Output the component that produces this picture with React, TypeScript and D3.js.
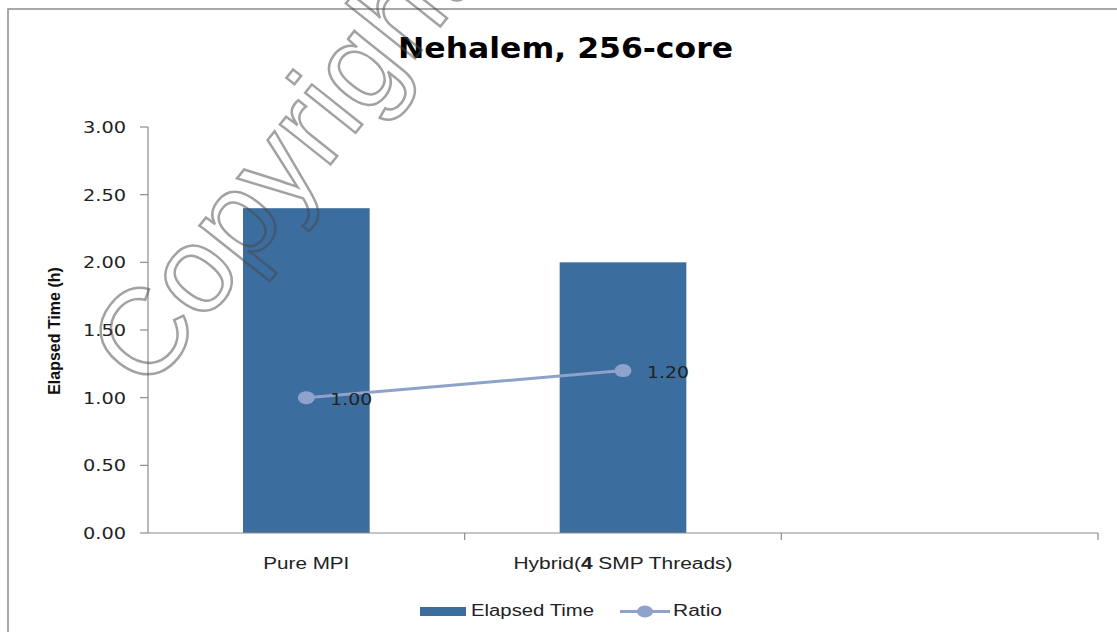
import React from "react";
import * as d3 from "d3";

const title = "Nehalem, 256-core";
const categories = ["Pure MPI", "Hybrid(4 SMP Threads)", ""];
const elapsedTime = [2.4, 2.0];
const ratio = [1.0, 1.2];
const yTicks = [0, 0.5, 1.0, 1.5, 2.0, 2.5, 3.0];
const yAxisLabel = "Elapsed Time (h)";
const legendLabels = ["Elapsed Time", "Ratio"];
const watermark = "Copyright";

const W = 1117;
const H = 632;
const M = { left: 148, right: 1098, top: 127, bottom: 533 };
const BAR = "#3C6D9F";
const LINE = "#8EA2CB";
const AXIS = "#8c8c8c";

export default function App() {
  const x = d3
    .scaleBand<number>()
    .domain(categories.map((_, i) => i))
    .range([M.left, M.right])
    .paddingInner(0)
    .paddingOuter(0);
  const y = d3.scaleLinear().domain([0, 3]).range([M.bottom, M.top]);
  const bw = x.bandwidth() * 0.4;
  const cx = (i: number) => (x(i) as number) + x.bandwidth() / 2;

  const line = d3
    .line<number>()
    .x((_, i) => cx(i))
    .y((d) => y(d));

  const sans = "'DejaVu Sans', Verdana, sans-serif";
  const narrow = "'Liberation Sans Narrow', 'Liberation Sans', Arial, sans-serif";

  const boundaries = categories.map((_, i) => (x(i) as number) + x.bandwidth());

  return (
    <svg
      width={W}
      height={H}
      style={{ position: "absolute", left: 0, top: 0, background: "#fff" }}
    >
      <rect x={0} y={0} width={W} height={H} fill="#fff" />
      <rect x={8} y={9} width={1300} height={800} fill="none" stroke={AXIS} strokeWidth={1.5} />

      <text
        x={398}
        y={58}
        fontFamily={sans}
        fontWeight="bold"
        fontSize={29}
        textLength={335}
        lengthAdjust="spacingAndGlyphs"
        fill="#000"
      >
        {title}
      </text>

      {/* bars */}
      {elapsedTime.map((v, i) => (
        <rect
          key={i}
          x={cx(i) - bw / 2}
          y={y(v)}
          width={bw}
          height={y(0) - y(v)}
          fill={BAR}
        />
      ))}

      {/* y axis */}
      <line x1={M.left} x2={M.left} y1={M.top} y2={M.bottom} stroke={AXIS} strokeWidth={1.2} />
      {yTicks.map((t) => (
        <g key={t}>
          <line x1={M.left - 8} x2={M.left} y1={y(t)} y2={y(t)} stroke={AXIS} strokeWidth={1.2} />
          <text
            x={126 - 43}
            y={y(t) + 6}
            fontFamily={sans}
            fontSize={16}
            textLength={43}
            lengthAdjust="spacingAndGlyphs"
            fill="#222"
          >
            {d3.format(".2f")(t)}
          </text>
        </g>
      ))}

      {/* x axis */}
      <line x1={M.left} x2={M.right} y1={M.bottom} y2={M.bottom} stroke={AXIS} strokeWidth={1.2} />
      {boundaries.map((b, i) => (
        <line key={i} x1={b} x2={b} y1={M.bottom} y2={M.bottom + 7} stroke={AXIS} strokeWidth={1.2} />
      ))}
      <text
        x={cx(0) - 43}
        y={569}
        fontFamily={narrow}
        fontSize={16}
        textLength={86}
        lengthAdjust="spacingAndGlyphs"
        fill="#222"
      >
        {categories[0]}
      </text>
      <text
        x={cx(1) - 109.5}
        y={569}
        fontFamily={narrow}
        fontSize={16}
        textLength={219}
        lengthAdjust="spacingAndGlyphs"
        fill="#222"
      >
        Hybrid(<tspan fontWeight="bold">4</tspan> SMP Threads)
      </text>

      {/* y axis label */}
      <text
        transform={`translate(60, ${331}) rotate(-90)`}
        textAnchor="middle"
        fontFamily={narrow}
        fontWeight="bold"
        fontSize={16}
        fill="#111"
      >
        {yAxisLabel}
      </text>

      {/* ratio line */}
      <path d={line(ratio) || ""} fill="none" stroke={LINE} strokeWidth={3} />
      {ratio.map((v, i) => (
        <ellipse key={i} cx={cx(i)} cy={y(v)} rx={8.5} ry={6.5} fill={LINE} />
      ))}
      {ratio.map((v, i) => (
        <text
          key={i}
          x={cx(i) + 24}
          y={y(v) + 7}
          fontFamily={sans}
          fontSize={16}
          textLength={42}
          lengthAdjust="spacingAndGlyphs"
          fill="#222"
        >
          {d3.format(".2f")(v)}
        </text>
      ))}

      {/* legend */}
      <rect x={420} y={607} width={46} height={9} fill={BAR} />
      <text
        x={471}
        y={616}
        fontFamily={narrow}
        fontSize={16}
        textLength={123}
        lengthAdjust="spacingAndGlyphs"
        fill="#222"
      >
        {legendLabels[0]}
      </text>
      <line x1={620} x2={670} y1={611.5} y2={611.5} stroke={LINE} strokeWidth={3} />
      <ellipse cx={645} cy={611.5} rx={8} ry={6} fill={LINE} />
      <text
        x={673}
        y={616}
        fontFamily={narrow}
        fontSize={16}
        textLength={49}
        lengthAdjust="spacingAndGlyphs"
        fill="#222"
      >
        {legendLabels[1]}
      </text>

      {/* watermark */}
      <text
        transform="translate(148, 394) rotate(-51.5)"
        fontFamily="'Liberation Sans', Arial, sans-serif"
        fontSize={122}
        fill="none"
        stroke="rgba(70,70,70,0.5)"
        strokeWidth={2.5}
      >
        {watermark}
      </text>
    </svg>
  );
}
